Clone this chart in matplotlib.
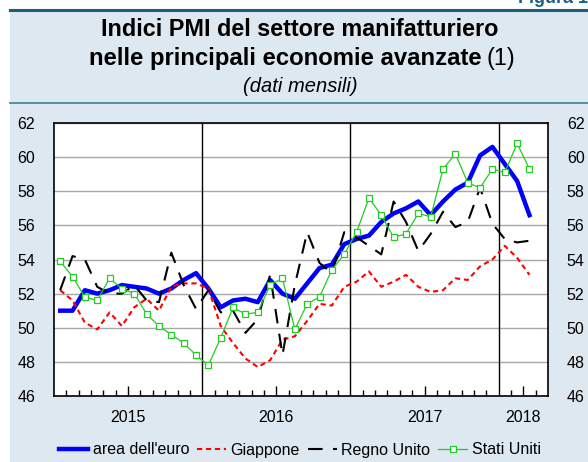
import matplotlib
matplotlib.use('Agg')
import matplotlib.pyplot as plt
from matplotlib.patches import Rectangle
from matplotlib.lines import Line2D

plt.rcParams['font.family'] = ['Liberation Sans', 'DejaVu Sans']

# dati mensili gen 2015 - mar 2018
anni = ['2015', '2016', '2017', '2018']
area_euro = [51.0, 51.0, 52.2, 52.0, 52.2, 52.5, 52.4, 52.3, 52.0, 52.3, 52.8, 53.2,
             52.3, 51.2, 51.6, 51.7, 51.5, 52.8, 52.0, 51.7, 52.6, 53.5, 53.7, 54.9,
             55.2, 55.4, 56.2, 56.7, 57.0, 57.4, 56.6, 57.4, 58.1, 58.5, 60.1, 60.6,
             59.6, 58.6, 56.6]
giappone = [52.2, 51.6, 50.3, 49.9, 50.9, 50.1, 51.2, 51.7, 51.0, 52.4, 52.6, 52.6,
            52.3, 50.1, 49.1, 48.2, 47.7, 48.1, 49.3, 49.5, 50.4, 51.4, 51.3, 52.4,
            52.7, 53.3, 52.4, 52.7, 53.1, 52.4, 52.1, 52.2, 52.9, 52.8, 53.6, 54.0,
            54.8, 54.1, 53.1]
regno_unito = [52.2, 54.2, 54.0, 52.4, 52.0, 52.0, 52.5, 51.6, 51.5, 54.4, 52.5, 51.1,
               52.2, 50.9, 51.0, 49.7, 50.5, 53.1, 48.4, 52.5, 55.6, 53.8, 53.2, 55.6,
               55.3, 54.8, 54.3, 57.4, 56.2, 54.5, 55.5, 56.8, 55.9, 56.2, 58.2, 56.1,
               55.2, 55.0, 55.1]
stati_uniti = [53.9, 53.0, 51.8, 51.6, 52.9, 52.3, 52.0, 50.8, 50.1, 49.6, 49.1, 48.4,
               47.8, 49.4, 51.2, 50.8, 50.9, 52.5, 52.9, 49.9, 51.4, 51.8, 53.4, 54.3,
               55.6, 57.6, 56.6, 55.3, 55.5, 56.7, 56.5, 59.3, 60.2, 58.5, 58.2, 59.3,
               59.1, 60.8, 59.3]

fig = plt.figure(figsize=(5.88, 4.62), dpi=100)
fig.patch.set_facecolor('white')

# riquadro azzurro e linee di bordo
fig.patches.append(Rectangle((10/588, 0), 1 - 10/588, 1 - 10/462, transform=fig.transFigure,
                             facecolor='#dde8f1', edgecolor='none', zorder=-5))
fig.add_artist(Line2D([10/588, 1], [1 - 10/462, 1 - 10/462], transform=fig.transFigure,
                      color='#1b5e80', linewidth=2.2))
fig.add_artist(Line2D([10/588, 1], [1 - 103/462, 1 - 103/462], transform=fig.transFigure,
                      color='#3f809c', linewidth=1.2))

fig.text(1.0, 1 - 3/462, 'Figura 1', ha='right', va='baseline', fontsize=13,
         fontweight='bold', color='#1b5e80')
fig.text(300/588, 1 - 29/462, 'Indici PMI del settore manifatturiero', ha='center', va='center',
         fontsize=16.8, fontweight='bold')
fig.text(482/588, 1 - 58/462, 'nelle principali economie avanzate', ha='right', va='center',
         fontsize=17.2, fontweight='bold')
fig.text(487/588, 1 - 58/462, '(1)', ha='left', va='center', fontsize=16.8)
fig.text(300/588, 1 - 86/462, '(dati mensili)', ha='center', va='center', fontsize=14.5,
         style='italic')

ax = fig.add_axes([54/588, 1 - 396/462, 494/588, 273/462])
ax.set_facecolor('white')

x = [i + 0.5 for i in range(len(area_euro))]
ax.plot(x, area_euro, color='#0000ff', linewidth=3.2, label="area dell'euro", zorder=3)
ax.plot(x, giappone, color='#ff0000', linewidth=1.5, linestyle=(0, (2.5, 1.8)), label='Giappone', zorder=3)
ax.plot(x, regno_unito, color='black', linewidth=1.5, linestyle=(0, (7, 5)), label='Regno Unito', zorder=3)
ax.plot(x, stati_uniti, color='#22cc22', linewidth=0.9, marker='s', markersize=5,
        markerfacecolor='white', markeredgecolor='#22cc22', markeredgewidth=0.9,
        label='Stati Uniti', zorder=4)

ax.set_xlim(0, 40)
ax.set_ylim(46, 62)
ax.set_yticks(range(46, 63, 2))
ax.yaxis.grid(True, color='#a8a8a8', linewidth=1)
ax.set_axisbelow(True)
for xv in (12, 24, 36):
    ax.axvline(xv, color='black', linewidth=1, zorder=2)

ax.tick_params(axis='y', which='both', left=False, right=False, labelleft=True,
               labelright=True, labelsize=11.5, pad=10)
ax.set_xticks([6, 18, 30, 38])
ax.set_xticklabels(anni)
ax.set_xticks([m for m in range(1, 40) if m not in (6, 12, 18, 24, 30, 36)], minor=True)
ax.tick_params(axis='x', which='major', direction='in', length=7, width=1, labelsize=11.5, pad=10)
ax.tick_params(axis='x', which='minor', direction='in', length=4, width=1)
for s in ax.spines.values():
    s.set_linewidth(1.2)
    s.set_color('black')

fig.legend(loc='center', bbox_to_anchor=(300/588, 1 - 450/462), ncol=4, frameon=False,
           fontsize=11.5, handlelength=1.8, columnspacing=0.5, handletextpad=0.3)

fig.savefig('out.png', dpi=100, facecolor=fig.get_facecolor())
